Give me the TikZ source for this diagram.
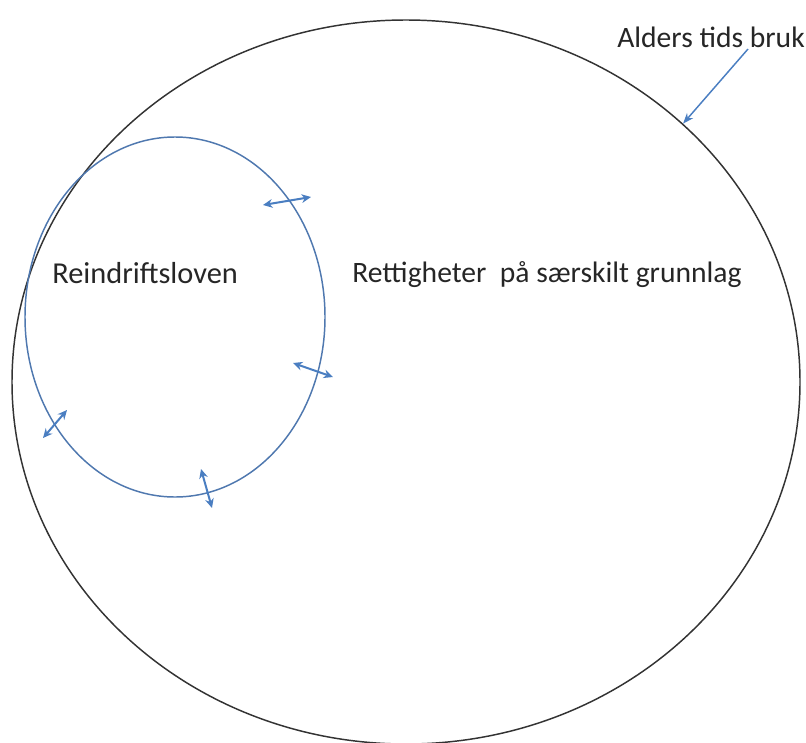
\documentclass[tikz,border=0pt]{standalone}
\usepackage{fontspec}
\setmainfont{Carlito}
\usetikzlibrary{shapes.geometric,arrows.meta}
\definecolor{ringblue}{RGB}{79,120,175}
\definecolor{arrblue}{RGB}{74,126,193}
\tikzset{
  ring/.style={draw, ellipse, inner sep=0pt, line width=1.1pt},
  twoway/.style={{Stealth[length=7pt,width=6.5pt]}-{Stealth[length=7pt,width=6.5pt]}, arrblue, line width=1.5pt},
  lbl/.style={anchor=west, inner sep=0pt, font=\fontsize{22.2}{26}\selectfont, text=black!85}
}
\begin{document}
\begin{tikzpicture}[x=0.75pt,y=0.75pt,yscale=-1,xscale=1]
        \useasboundingbox (0,0) rectangle (806,742);
        \node [ring, color=black!80, minimum width=788*0.75pt, minimum height=724*0.75pt] (outer) at (406,382) {};
        \node [ring, color=ringblue, minimum width=300*0.75pt, minimum height=360*0.75pt] (inner) at (175,317) {};
        \node [lbl, font=\fontsize{22.8}{26}\selectfont] (law) at (52,273) {Reindriftsloven};
        \node [lbl] (rights) at (352,275) {Rettigheter~ på særskilt grunnlag};
        \node [lbl] (ancient) at (617,37) {Alders tids bruk};
        \coordinate (p) at (748,49);
        \draw [arrblue, line width=1.1pt, -{Stealth[length=8pt,width=6pt]}] (p) -- (outer.43);
        % arrows across the inner ring
        \coordinate (a1) at (263,205); \coordinate (b1) at (311,197);
        \coordinate (a2) at (293,363); \coordinate (b2) at (333,377);
        \coordinate (a3) at (43,438);  \coordinate (b3) at (67,410);
        \coordinate (a4) at (201,469); \coordinate (b4) at (212,508);
        \foreach \i in {1,...,4}
          \draw [twoway] (a\i) -- (b\i);
\end{tikzpicture}
\end{document}
